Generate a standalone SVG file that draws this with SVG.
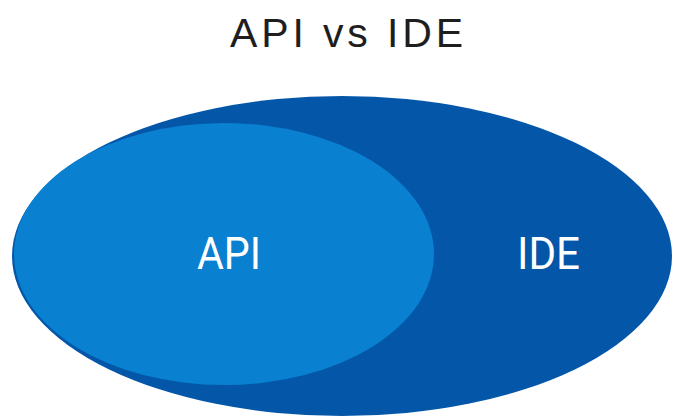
<svg xmlns="http://www.w3.org/2000/svg" width="674" height="417" viewBox="0 0 674 417">
<style>
.title{font-family:"Liberation Sans",Arial,sans-serif;font-size:41px;fill:#1e1e1e;letter-spacing:4px}
.lbl{font-family:Roboto,"Liberation Sans",sans-serif;font-size:44px;fill:#ffffff}
</style>
<rect width="674" height="417" fill="#ffffff"/>
<text class="title" x="230" y="47" textLength="237" lengthAdjust="spacing">API vs IDE</text>
<g id="ide">
<ellipse cx="342" cy="256" rx="330" ry="160" fill="#0457a8"/>
<text class="lbl" x="517" y="269" textLength="63" lengthAdjust="spacingAndGlyphs">IDE</text>
</g>
<g id="api">
<ellipse cx="224" cy="254" rx="210" ry="131" fill="#0a80d0"/>
<text class="lbl" x="197" y="269" textLength="64" lengthAdjust="spacingAndGlyphs">API</text>
</g>
<g id="connectors"/>
</svg>
